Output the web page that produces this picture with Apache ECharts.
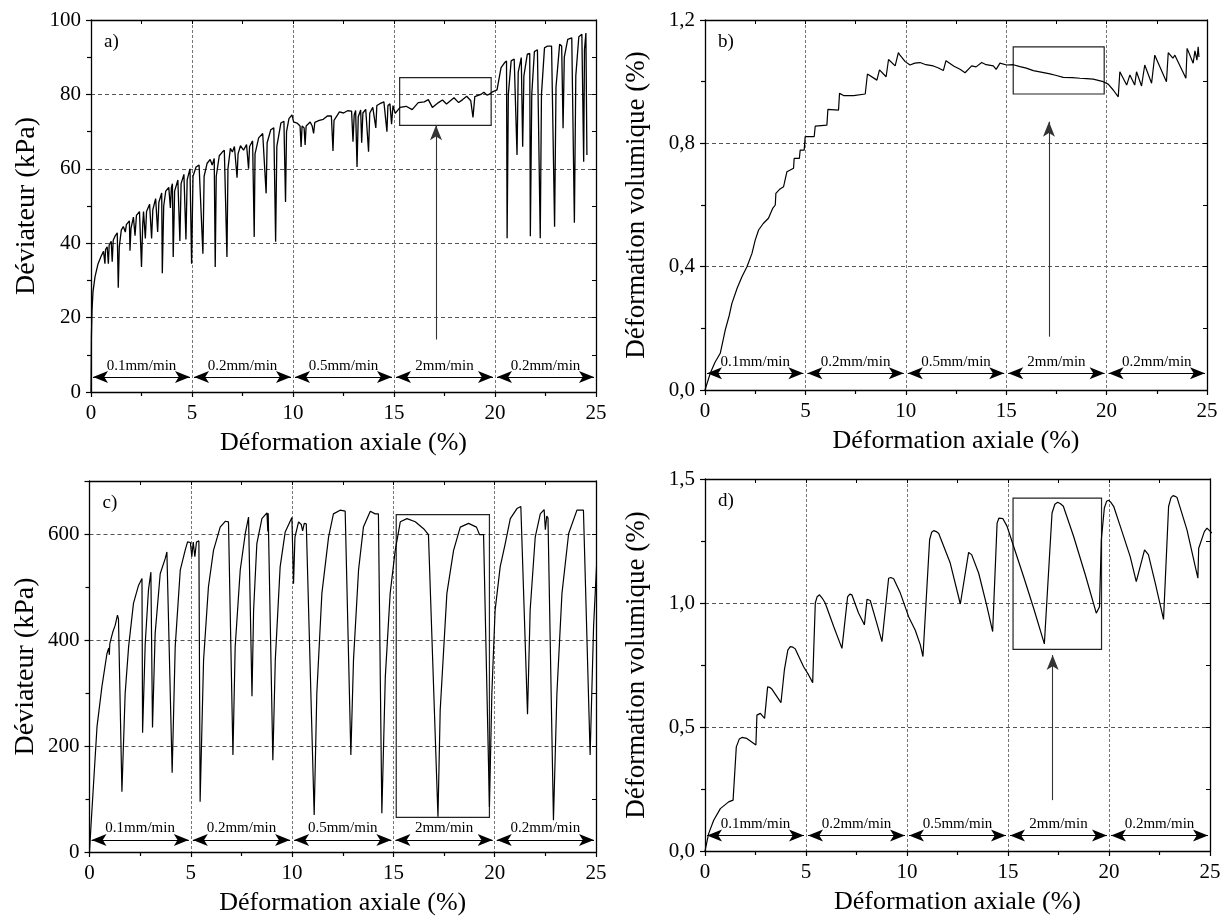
<!DOCTYPE html>
<html><head><meta charset="utf-8">
<script src="https://cdn.jsdelivr.net/npm/echarts@6/dist/echarts.min.js"></script>
<style>html,body{margin:0;padding:0;background:#fff}#c{width:1229px;height:922px}</style>
</head><body><div id="c"></div>
<script>
// ---- Data ----
const aData = [[0,0],[0.02,15],[0.05,22],[0.1,27],[0.2,31],[0.35,34.5],[0.5,36.5],[0.62,37.8],[0.66,38],[0.69,34.5],[0.72,38.3],[0.8,39],[0.84,39.2],[0.86,34.5],[0.9,39.5],[1.0,40.5],[1.03,41],[1.05,35],[1.1,40.8],[1.2,42],[1.3,42.8],[1.35,28],[1.4,39],[1.5,43.5],[1.6,44.5],[1.7,43],[1.75,45],[1.9,46],[1.93,38],[1.98,44],[2.1,47],[2.18,42],[2.25,47.5],[2.4,48.5],[2.5,33.6],[2.56,45],[2.6,48.5],[2.69,41.3],[2.75,48.5],[2.9,50.5],[3.0,41.3],[3.06,49],[3.2,52],[3.3,43],[3.36,51],[3.5,53.5],[3.53,31.9],[3.6,50],[3.7,54],[3.85,55],[3.93,49.5],[3.98,55],[4.03,56],[4.07,36.3],[4.14,54],[4.3,57],[4.4,40.6],[4.46,56],[4.6,58.5],[4.7,41],[4.76,57],[4.9,60],[4.98,34.5],[5.05,58],[5.2,60.5],[5.35,61],[5.54,37.2],[5.6,58],[5.75,61.5],[5.9,62.5],[6.0,61],[6.1,62.8],[6.15,33.6],[6.2,58],[6.35,63.5],[6.5,64.5],[6.6,65],[6.73,36.3],[6.78,60],[6.9,65.5],[7.0,64.5],[7.1,66],[7.23,57.6],[7.28,64],[7.4,66.2],[7.55,65],[7.7,66.5],[7.8,60],[7.85,66],[8.0,67.5],[8.08,41.7],[8.12,64],[8.3,68.3],[8.5,69.5],[8.67,53.4],[8.72,67],[8.9,70.5],[9.05,71],[9.14,40.4],[9.2,66],[9.4,72.3],[9.55,72.8],[9.63,51.1],[9.68,70],[9.8,73.5],[9.95,74.5],[10.03,72.6],[10.2,72.3],[10.35,71.5],[10.4,65.9],[10.45,71.5],[10.55,71],[10.6,66.4],[10.65,71.5],[10.85,72.6],[10.95,71.5],[11.02,69.5],[11.08,72.5],[11.3,73],[11.5,73.3],[11.7,74.2],[11.9,74.2],[11.98,64.8],[12.03,73],[12.3,75.3],[12.5,75],[12.7,75.6],[12.9,75.5],[12.97,67.3],[13.03,74.5],[13.1,75.7],[13.17,60.5],[13.23,74],[13.35,75.8],[13.4,67],[13.46,75],[13.6,76],[13.74,64.6],[13.8,75],[13.95,76.5],[14.1,71],[14.15,77],[14.3,77.5],[14.5,78],[14.65,70],[14.7,77],[14.8,77.5],[14.88,72],[14.95,77],[15.06,74.9],[15.3,76.5],[15.6,76.8],[15.9,75.9],[16.2,77.8],[16.5,78],[16.7,78.6],[16.9,76.5],[17.2,77.8],[17.4,78.5],[17.6,77.4],[17.97,79.1],[18.2,77.8],[18.4,78.6],[18.6,79.5],[18.8,78.3],[18.91,73.8],[19.0,79.4],[19.3,80],[19.45,80.6],[19.6,79.8],[19.7,80],[19.85,80.6],[20.1,81.2],[20.3,87.2],[20.47,88.5],[20.57,89],[20.6,41.3],[20.66,80],[20.8,89],[20.95,89.5],[21.09,63.7],[21.15,86],[21.3,89.9],[21.37,65.9],[21.43,85],[21.6,90.8],[21.72,91],[21.75,41.9],[21.82,80],[21.95,91.5],[22.1,92],[22.24,41.3],[22.3,80],[22.45,92.5],[22.6,93],[22.8,93],[22.95,44.4],[23.02,82],[23.2,93.5],[23.3,93],[23.37,70.9],[23.43,90],[23.6,94.8],[23.8,95.2],[23.93,45.5],[24.0,85],[24.15,95.5],[24.3,96.2],[24.39,61.9],[24.43,92],[24.5,96.5],[24.55,63.7]];

const bData = [[0,0],[0.26,0.054],[0.5,0.09],[0.76,0.119],[1.01,0.195],[1.2,0.24],[1.34,0.281],[1.6,0.33],[1.84,0.367],[2.09,0.40],[2.34,0.443],[2.5,0.486],[2.67,0.519],[2.9,0.54],[3.16,0.557],[3.38,0.59],[3.41,0.594],[3.5,0.6],[3.53,0.638],[3.7,0.65],[3.91,0.659],[3.95,0.67],[4.08,0.708],[4.41,0.719],[4.44,0.751],[4.7,0.751],[4.74,0.778],[4.94,0.778],[4.99,0.822],[5.44,0.822],[5.49,0.856],[6.07,0.859],[6.12,0.910],[6.65,0.908],[6.7,0.962],[6.9,0.955],[7.4,0.955],[7.98,0.96],[8.09,1.025],[8.56,1.005],[8.69,1.038],[9.02,1.016],[9.14,1.072],[9.47,1.051],[9.63,1.094],[9.72,1.085],[9.97,1.065],[10.21,1.054],[10.45,1.06],[10.71,1.062],[11.0,1.055],[11.37,1.051],[11.6,1.045],[11.87,1.036],[12.0,1.068],[12.4,1.05],[12.7,1.04],[12.95,1.029],[13.28,1.051],[13.5,1.048],[13.78,1.062],[14.0,1.055],[14.36,1.051],[14.5,1.04],[14.69,1.06],[15.02,1.054],[15.35,1.055],[15.69,1.049],[16.0,1.044],[16.35,1.036],[16.8,1.03],[17.18,1.025],[17.5,1.02],[17.84,1.014],[18.3,1.013],[18.67,1.011],[19.0,1.01],[19.33,1.008],[19.83,1.0],[20.08,0.992],[20.33,0.973],[20.58,0.951],[20.66,1.032],[21.0,0.989],[21.16,1.022],[21.4,0.989],[21.49,1.032],[21.74,0.986],[21.9,1.054],[22.24,0.995],[22.4,1.086],[22.98,1.0],[23.07,1.094],[23.3,1.076],[23.4,1.086],[23.95,1.011],[24.01,1.108],[24.31,1.06],[24.4,1.1],[24.5,1.07],[24.56,1.113],[24.6,1.08]];

const cData = [[0,0],[0.07,47.7],[0.17,110],[0.37,236],[0.61,311],[0.86,374],[0.95,385],[0.98,372],[1.0,392],[1.02,396],[1.15,415],[1.27,428],[1.38,447],[1.43,440],[1.6,113.7],[1.76,299],[1.93,387],[2.17,469],[2.42,503],[2.59,516],[2.62,225],[2.75,393],[2.91,494],[3.03,528],[3.11,235],[3.24,412],[3.49,525],[3.74,554],[3.82,566],[4.08,149.5],[4.23,387],[4.48,532],[4.72,569],[4.84,585],[4.98,584],[5.05,557],[5.12,585],[5.2,557],[5.28,585],[5.4,587],[5.46,94.8],[5.63,362],[5.87,500],[6.12,569],[6.45,613],[6.7,624],[6.86,623],[7.08,183],[7.19,387],[7.44,532],[7.69,601],[7.85,632],[8.02,294],[8.1,456],[8.26,582],[8.51,629],[8.76,640],[8.8,605],[8.82,639],[9.05,173],[9.17,362],[9.41,538],[9.66,604],[9.99,631],[10.03,630],[10.07,506],[10.14,594],[10.32,623],[10.45,618],[10.52,606],[10.6,620],[10.7,619],[11.09,69.7],[11.22,299],[11.47,488],[11.8,594],[12.04,638],[12.37,645],[12.62,643],[12.9,183],[13.03,362],[13.28,532],[13.52,613],[13.86,643],[14.1,638],[14.26,638],[14.43,73],[14.6,330],[14.84,488],[15.09,569],[15.34,623],[15.67,629],[16.08,623],[16.49,610],[16.73,599],[17.2,66.6],[17.31,268],[17.64,488],[17.97,569],[18.3,613],[18.71,620],[19.1,613],[19.25,599],[19.45,599],[19.74,85],[19.86,299],[20.02,456],[20.27,538],[20.52,582],[20.77,629],[21.1,648],[21.29,652],[21.62,260],[21.75,456],[22.0,594],[22.25,638],[22.44,646],[22.5,608],[22.57,634],[22.63,630],[22.9,60],[23.07,299],[23.32,488],[23.65,601],[24.06,645],[24.38,645],[24.71,183],[24.88,425],[25.04,550]];

const dData = [[0,0],[0.18,0.07],[0.43,0.124],[0.76,0.171],[1.17,0.198],[1.39,0.205],[1.55,0.42],[1.7,0.452],[1.83,0.458],[2.07,0.454],[2.52,0.427],[2.57,0.548],[2.74,0.555],[2.95,0.535],[3.1,0.662],[3.2,0.66],[3.32,0.652],[3.76,0.598],[3.93,0.73],[4.1,0.81],[4.22,0.824],[4.35,0.822],[4.47,0.815],[4.88,0.743],[5.13,0.71],[5.33,0.679],[5.46,1.0],[5.55,1.025],[5.67,1.033],[5.8,1.02],[5.95,1.0],[6.37,0.905],[6.78,0.817],[7.06,1.025],[7.17,1.036],[7.27,1.033],[7.6,0.96],[7.89,0.912],[8.02,1.015],[8.1,1.017],[8.18,1.01],[8.5,0.92],[8.76,0.844],[9.09,1.1],[9.2,1.103],[9.34,1.098],[9.67,1.04],[10.08,0.945],[10.41,0.89],[10.66,0.831],[10.79,0.784],[11.12,1.255],[11.22,1.285],[11.32,1.292],[11.45,1.288],[11.57,1.28],[12.14,1.161],[12.64,0.996],[13.05,1.204],[13.12,1.205],[13.2,1.195],[13.55,1.12],[13.96,0.985],[14.24,0.885],[14.46,1.322],[14.55,1.342],[14.62,1.347],[14.75,1.34],[14.95,1.31],[15.28,1.228],[15.77,1.107],[16.27,0.979],[16.8,0.835],[17.18,1.363],[17.32,1.398],[17.46,1.406],[17.6,1.4],[17.74,1.39],[18.25,1.268],[18.83,1.113],[19.37,0.959],[19.53,0.985],[19.62,1.255],[19.77,1.383],[19.88,1.41],[19.98,1.414],[20.1,1.405],[20.23,1.39],[20.56,1.309],[21.05,1.187],[21.35,1.086],[21.76,1.214],[21.85,1.21],[21.95,1.195],[22.29,1.08],[22.7,0.934],[22.95,1.389],[23.07,1.425],[23.17,1.433],[23.27,1.43],[23.37,1.425],[23.86,1.295],[24.4,1.1],[24.44,1.221],[24.72,1.288],[24.85,1.302],[25.1,1.282]];

const rates = ['0.1mm/min','0.2mm/min','0.5mm/min','2mm/min','0.2mm/min'];
const rateSegments = [[0.1,4.9],[5.1,9.9],[10.1,14.9],[15.1,19.9],[20.1,24.9]];
const panelLetters = ['a)','b)','c)','d)'];
const yRanges = [[0,100,20],[0,1.2,0.4],[0,700,200],[0,1.5,0.5]];
const yNames = ['Déviateur (kPa)','Déformation volumique (%)','Déviateur (kPa)','Déformation volumique (%)'];
const xName = 'Déformation axiale (%)';
const xRange = [0,25,5];
const rateRowY = [4.0, 0.054, 22.6, 0.063];
const boxes = [[[15.28,84.5],[19.81,71.7]], [[15.35,1.113],[19.88,0.96]], [[15.14,636.6],[19.74,65.4]], [[15.25,1.423],[19.63,0.813]]];
const upArrows = [[17.08,14.1,71.7],[17.13,0.173,0.87],null,[17.21,0.205,0.79]];
const series4 = [aData,bData,cData,dData];

// ---- Layout ----
const FONT = 'Liberation Serif';
const grids = [
  {left:91, top:20, width:505, height:372},
  {left:705, top:20, width:502, height:370},
  {left:89.5, top:481, width:506.5, height:371},
  {left:705, top:479, width:505, height:372}
];
const yNameGap = [50,55,50,55];
const yNameSize = [28,27,28,27];
const decimalComma = [false,true,false,true];

const xAxes = [], yAxes = [], series = [], titles = [];
grids.forEach((g,i)=>{
  g.outerBoundsMode = 'none';
  const yr = yRanges[i];
  const fmtY = v => decimalComma[i] ? v.toFixed(1).replace('.',',') : String(Math.round(v));
  xAxes.push({
    type:'value', gridIndex:i, min:xRange[0], max:xRange[1], interval:xRange[2], position:'bottom',
    name:xName, nameLocation:'middle', nameGap:38,
    nameTextStyle:{fontFamily:FONT, fontSize:26, color:'#000'},
    axisLine:{show:true, onZero:false, lineStyle:{color:'#000', width:1.3}},
    axisTick:{show:true, inside:false, length:5, lineStyle:{color:'#000', width:1.2}},
    minorTick:{show:true, splitNumber:2, length:4, lineStyle:{color:'#000', width:1.2}},
    axisLabel:{fontFamily:FONT, fontSize:21, color:'#000', margin:11},
    splitLine:{show:true, lineStyle:{color:'#777', type:[3,2], width:1}}
  });
  yAxes.push({
    type:'value', gridIndex:i, min:yr[0], max:yr[1], interval:yr[2], position:'left',
    name:yNames[i], nameLocation:'middle', nameGap:yNameGap[i], nameRotate:90,
    nameTextStyle:{fontFamily:FONT, fontSize:yNameSize[i], color:'#000'},
    axisLine:{show:true, onZero:false, lineStyle:{color:'#000', width:1.3}},
    axisTick:{show:true, inside:false, length:5, lineStyle:{color:'#000', width:1.2}},
    minorTick:{show:true, splitNumber:2, length:4, lineStyle:{color:'#000', width:1.2}},
    axisLabel:{fontFamily:FONT, fontSize:21, color:'#000', margin:10, formatter:fmtY, showMaxLabel: i!==2},
    splitLine:{show:true, lineStyle:{color:'#555', type:[4,3], width:1}}
  });
  titles.push({text:panelLetters[i], left:g.left+8, top:g.top+8,
    textStyle:{fontFamily:FONT, fontSize:19, fontWeight:'normal', color:'#000'}});
});
// mirror axes (top / right frame with inward ticks)
grids.forEach((g,i)=>{
  const yr = yRanges[i];
  xAxes.push({
    type:'value', gridIndex:i, min:xRange[0], max:xRange[1], interval:xRange[2], position:'top',
    axisLine:{show:true, onZero:false, lineStyle:{color:'#000', width:1.3}},
    axisTick:{show:true, inside:true, length:4, lineStyle:{color:'#000'}},
    minorTick:{show:true, splitNumber:2, length:4, lineStyle:{color:'#000'}},
    axisLabel:{show:false}, splitLine:{show:false}
  });
  yAxes.push({
    type:'value', gridIndex:i, min:yr[0], max:yr[1], interval:yr[2], position:'right',
    axisLine:{show:true, onZero:false, lineStyle:{color:'#000', width:1.3}},
    axisTick:{show:true, inside:true, length:4, lineStyle:{color:'#000'}},
    minorTick:{show:true, splitNumber:2, length:4, lineStyle:{color:'#000'}},
    axisLabel:{show:false}, splitLine:{show:false}
  });
});

series4.forEach((data,i)=>{
  const mlData = rateSegments.map((s,k)=>[
    {name:rates[k], coord:[s[0], rateRowY[i]], symbol:'arrow'},
    {coord:[s[1], rateRowY[i]], symbol:'arrow'}
  ]);
  const ua = upArrows[i];
  if (ua) mlData.push([
    {name:'', coord:[ua[0], ua[1]], symbol:'none', lineStyle:{color:'#333', width:1.1}},
    {coord:[ua[0], ua[2]], symbol:'arrow'}
  ]);
  series.push({
    type:'line', xAxisIndex:i, yAxisIndex:i, data:data, showSymbol:false, symbol:'none',
    lineStyle:{color:'#000', width:i===0?1.3:1.2}, animation:false, silent:true, clip:true,
    markLine:{
      silent:true, animation:false, symbolSize:[9,15],
      lineStyle:{color:'#000', width:1.2, type:'solid'},
      label:{show:true, position:'middle', formatter:'{b}', distance:4,
        fontFamily:FONT, fontSize:15, color:'#000'},
      emphasis:{disabled:true},
      data: mlData
    },
    markArea:{
      silent:true, animation:false,
      itemStyle:{color:'rgba(0,0,0,0)', borderColor:'#222', borderWidth:1.2},
      label:{show:false},
      data:[[{coord:boxes[i][0]},{coord:boxes[i][1]}]]
    }
  });
});

const chart = echarts.init(document.getElementById('c'), null, {renderer:'canvas'});
chart.setOption({
  backgroundColor:'#fff',
  animation:false,
  textStyle:{fontFamily:FONT},
  title:titles,
  grid:grids,
  xAxis:xAxes,
  yAxis:yAxes,
  series:series
});
</script></body></html>
